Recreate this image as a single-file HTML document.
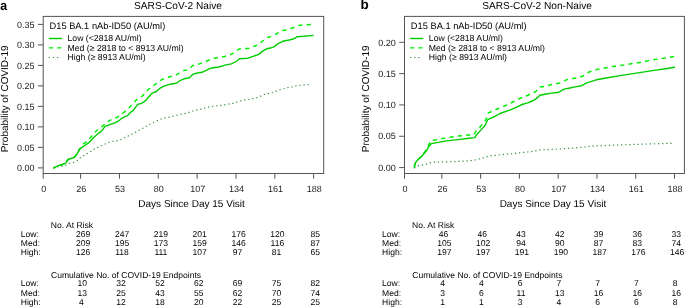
<!DOCTYPE html><html><head><meta charset="utf-8"><style>html,body{margin:0;padding:0;background:#fff;width:685px;height:307px;overflow:hidden}svg{display:block;will-change:transform}</style></head><body>
<svg width="685" height="307" viewBox="0 0 685 307" text-rendering="geometricPrecision" font-family='"Liberation Sans", sans-serif'>
<text transform="translate(0.3,9.6) scale(0.92,1)" font-size="13.4" font-weight="bold">a</text>
<text x="178.0" y="9.3" font-size="10.15" text-anchor="middle">SARS-CoV-2 Naive</text>
<g fill="none" stroke="#555" stroke-width="1">
<rect x="43.20" y="16.40" width="280.50" height="157.10"/>
<line x1="37.90" y1="167.90" x2="43.20" y2="167.90"/>
<line x1="37.90" y1="147.40" x2="43.20" y2="147.40"/>
<line x1="37.90" y1="126.90" x2="43.20" y2="126.90"/>
<line x1="37.90" y1="106.40" x2="43.20" y2="106.40"/>
<line x1="37.90" y1="85.90" x2="43.20" y2="85.90"/>
<line x1="37.90" y1="65.40" x2="43.20" y2="65.40"/>
<line x1="37.90" y1="44.90" x2="43.20" y2="44.90"/>
<line x1="37.90" y1="24.40" x2="43.20" y2="24.40"/>
<line x1="43.20" y1="173.50" x2="43.20" y2="178.80"/>
<line x1="80.60" y1="173.50" x2="80.60" y2="178.80"/>
<line x1="119.44" y1="173.50" x2="119.44" y2="178.80"/>
<line x1="158.28" y1="173.50" x2="158.28" y2="178.80"/>
<line x1="197.12" y1="173.50" x2="197.12" y2="178.80"/>
<line x1="235.96" y1="173.50" x2="235.96" y2="178.80"/>
<line x1="274.80" y1="173.50" x2="274.80" y2="178.80"/>
<line x1="313.64" y1="173.50" x2="313.64" y2="178.80"/>
</g>
<g font-size="9" fill="#222">
<text x="34.50" y="171.10" text-anchor="end">0.00</text>
<text x="34.50" y="150.60" text-anchor="end">0.05</text>
<text x="34.50" y="130.10" text-anchor="end">0.10</text>
<text x="34.50" y="109.60" text-anchor="end">0.15</text>
<text x="34.50" y="89.10" text-anchor="end">0.20</text>
<text x="34.50" y="68.60" text-anchor="end">0.25</text>
<text x="34.50" y="48.10" text-anchor="end">0.30</text>
<text x="34.50" y="27.60" text-anchor="end">0.35</text>
<text x="43.80" y="192" text-anchor="middle">0</text>
<text x="81.20" y="192" text-anchor="middle">26</text>
<text x="120.04" y="192" text-anchor="middle">53</text>
<text x="158.88" y="192" text-anchor="middle">80</text>
<text x="197.72" y="192" text-anchor="middle">107</text>
<text x="236.56" y="192" text-anchor="middle">134</text>
<text x="275.40" y="192" text-anchor="middle">161</text>
<text x="314.24" y="192" text-anchor="middle">188</text>
</g>
<text x="191.60" y="206.8" font-size="10" text-anchor="middle">Days Since Day 15 Visit</text>
<text transform="translate(7.60,98.8) rotate(-90)" font-size="10" text-anchor="middle">Probability of COVID-19</text>
<text x="49.50" y="29.0" font-size="9.3">D15 BA.1 nAb-ID50 (AU/ml)</text>
<g font-size="8.7">
<text x="67.50" y="40.9">Low (&lt;2818 AU/ml)</text>
<text x="67.50" y="50.5">Med (≥ 2818 to &lt; 8913 AU/ml)</text>
<text x="67.50" y="59.7">High (≥ 8913 AU/ml)</text>
</g>
<g fill="none" stroke-width="1.4">
<line x1="48.80" y1="38.5" x2="62.00" y2="38.5" stroke="#00CD00"/>
<line x1="48.80" y1="47.9" x2="62.00" y2="47.9" stroke="#00F000" stroke-dasharray="4.4 3.8"/>
<line x1="48.70" y1="57.5" x2="59.00" y2="57.5" stroke="#3a9548" stroke-dasharray="1.3 2.8" stroke-width="1.2"/>
</g>
<g fill="none" stroke-width="1.4" stroke-linejoin="round">
<polyline points="53.3,168.1 57.3,167.0 61.7,166.3 65.6,165.2 69.4,163.3 73.5,162.4 77.4,160.5 80.4,157.6 83.9,155.6 87.3,153.5 91.1,151.2 94.5,148.7 98.5,147.2 102.5,145.3 106.5,143.5 110.4,141.9 114.0,141.2 118.2,140.6 122.0,139.0 125.4,137.4 129.3,135.4 133.2,133.5 136.8,131.5 140.4,129.6 144.0,127.6 147.6,125.6 151.0,123.6 154.7,121.7 162.9,118.3 170.8,116.9 178.7,114.7 187.2,113.0 194.4,110.4 203.0,108.8 207.6,107.1 215.4,106.0 223.3,105.1 232.5,103.4 236.5,102.1 244.4,99.9 248.2,99.5 256.4,97.8 264.5,94.5 272.7,92.5 280.3,89.6 289.0,87.3 293.0,86.8 297.2,85.4 301.1,85.2 305.4,84.8 310.3,84.4" stroke="#3a9548" stroke-dasharray="1.3 2.8" stroke-width="1.2"/>
<polyline points="53.3,168.1 57.8,165.9 62.4,164.5 65.6,163.2 68.3,159.3 70.9,158.5 74.4,157.3 76.8,154.3 79.0,150.0 80.6,147.6 82.5,144.5 85.5,142.4 88.5,140.5 91.5,136.2 94.5,132.5 97.5,130.0 100.5,128.0 103.1,125.8 105.9,123.0 110.3,120.1 117.6,117.1 123.5,112.7 130.8,106.1 135.9,100.3 142.5,95.9 147.7,90.0 155.0,84.5 158.0,82.0 162.4,79.3 169.8,76.8 177.1,74.5 180.0,72.5 183.6,70.6 187.5,70.1 190.5,68.0 192.6,65.6 197.5,64.4 200.0,63.6 206.3,61.2 213.7,58.2 219.0,57.6 225.0,56.4 230.5,54.6 233.2,53.2 237.8,50.0 240.0,48.7 248.7,48.4 253.3,46.6 256.9,45.3 261.0,42.3 263.3,40.5 267.4,37.5 272.2,36.1 277.1,33.4 283.1,30.4 287.9,29.8 293.3,27.7 298.8,25.5 303.6,25.0 313.6,24.2" stroke="#00F000" stroke-dasharray="4.2 4.2" stroke-dashoffset="1.6" stroke-width="1.5"/>
<polyline points="53.3,168.1 57.8,165.9 62.4,164.5 65.6,163.2 68.3,159.3 70.9,158.5 74.4,157.3 76.8,154.3 79.1,150.1 81.4,147.8 84.8,145.5 88.2,143.2 91.7,139.8 93.9,137.2 97.4,134.2 100.8,131.6 103.0,129.2 105.1,126.4 110.3,124.3 114.9,122.8 118.1,121.2 121.0,119.0 123.9,117.1 127.1,115.9 131.2,111.8 133.6,110.2 136.9,105.3 138.5,104.1 141.8,103.3 145.9,100.4 148.4,97.3 152.1,93.2 156.5,91.5 159.4,88.7 163.8,86.2 169.7,84.3 176.3,83.2 179.9,80.7 184.3,78.8 189.5,77.7 193.1,74.1 197.5,73.0 201.9,72.3 206.3,70.4 210.7,68.2 215.0,67.5 219.0,67.0 225.0,65.1 231.4,63.9 236.9,61.0 239.6,58.7 247.8,58.2 252.4,56.6 258.8,54.4 262.4,51.4 267.0,48.7 271.5,47.7 274.0,46.9 277.8,43.8 282.7,41.3 289.1,40.0 294.0,38.7 297.6,36.7 303.6,36.3 313.6,35.4" stroke="#00CD00"/>
</g>
<g font-size="8.550" transform="scale(1.000,1)">
<text x="50.80" y="228">No. At Risk</text>
<text x="51.00" y="278">Cumulative No. of COVID-19 Endpoints</text>
<text x="20.80" y="237.0">Low:</text>
<text x="83.20" y="237.0" text-anchor="middle">269</text>
<text x="122.04" y="237.0" text-anchor="middle">247</text>
<text x="160.88" y="237.0" text-anchor="middle">219</text>
<text x="199.72" y="237.0" text-anchor="middle">201</text>
<text x="238.56" y="237.0" text-anchor="middle">176</text>
<text x="277.40" y="237.0" text-anchor="middle">120</text>
<text x="315.29" y="237.0" text-anchor="middle">85</text>
<text x="20.80" y="246.0">Med:</text>
<text x="83.20" y="246.0" text-anchor="middle">209</text>
<text x="122.04" y="246.0" text-anchor="middle">195</text>
<text x="160.88" y="246.0" text-anchor="middle">173</text>
<text x="199.72" y="246.0" text-anchor="middle">159</text>
<text x="238.56" y="246.0" text-anchor="middle">146</text>
<text x="277.40" y="246.0" text-anchor="middle">116</text>
<text x="315.29" y="246.0" text-anchor="middle">87</text>
<text x="20.80" y="255.0">High:</text>
<text x="83.20" y="255.0" text-anchor="middle">126</text>
<text x="122.04" y="255.0" text-anchor="middle">118</text>
<text x="160.88" y="255.0" text-anchor="middle">111</text>
<text x="199.72" y="255.0" text-anchor="middle">107</text>
<text x="237.61" y="255.0" text-anchor="middle">97</text>
<text x="276.45" y="255.0" text-anchor="middle">81</text>
<text x="315.29" y="255.0" text-anchor="middle">65</text>
<text x="20.80" y="286.0">Low:</text>
<text x="82.25" y="286.0" text-anchor="middle">10</text>
<text x="121.09" y="286.0" text-anchor="middle">32</text>
<text x="159.93" y="286.0" text-anchor="middle">52</text>
<text x="198.77" y="286.0" text-anchor="middle">62</text>
<text x="237.61" y="286.0" text-anchor="middle">69</text>
<text x="276.45" y="286.0" text-anchor="middle">75</text>
<text x="315.29" y="286.0" text-anchor="middle">82</text>
<text x="20.80" y="296.0">Med:</text>
<text x="82.25" y="296.0" text-anchor="middle">13</text>
<text x="121.09" y="296.0" text-anchor="middle">25</text>
<text x="159.93" y="296.0" text-anchor="middle">43</text>
<text x="198.77" y="296.0" text-anchor="middle">55</text>
<text x="237.61" y="296.0" text-anchor="middle">62</text>
<text x="276.45" y="296.0" text-anchor="middle">70</text>
<text x="315.29" y="296.0" text-anchor="middle">74</text>
<text x="20.80" y="305.0">High:</text>
<text x="81.30" y="305.0" text-anchor="middle">4</text>
<text x="121.09" y="305.0" text-anchor="middle">12</text>
<text x="159.93" y="305.0" text-anchor="middle">18</text>
<text x="198.77" y="305.0" text-anchor="middle">20</text>
<text x="237.61" y="305.0" text-anchor="middle">22</text>
<text x="276.45" y="305.0" text-anchor="middle">25</text>
<text x="315.29" y="305.0" text-anchor="middle">25</text>
</g>
<text x="360.6" y="9" font-size="13.5" font-weight="bold">b</text>
<text x="537.0" y="9.3" font-size="10.15" text-anchor="middle">SARS-CoV-2 Non-Naive</text>
<g fill="none" stroke="#555" stroke-width="1">
<rect x="404.50" y="16.40" width="279.90" height="157.10"/>
<line x1="399.20" y1="167.60" x2="404.50" y2="167.60"/>
<line x1="399.20" y1="136.27" x2="404.50" y2="136.27"/>
<line x1="399.20" y1="104.95" x2="404.50" y2="104.95"/>
<line x1="399.20" y1="73.62" x2="404.50" y2="73.62"/>
<line x1="399.20" y1="42.30" x2="404.50" y2="42.30"/>
<line x1="404.50" y1="173.50" x2="404.50" y2="178.80"/>
<line x1="441.84" y1="173.50" x2="441.84" y2="178.80"/>
<line x1="480.62" y1="173.50" x2="480.62" y2="178.80"/>
<line x1="519.40" y1="173.50" x2="519.40" y2="178.80"/>
<line x1="558.17" y1="173.50" x2="558.17" y2="178.80"/>
<line x1="596.95" y1="173.50" x2="596.95" y2="178.80"/>
<line x1="635.73" y1="173.50" x2="635.73" y2="178.80"/>
<line x1="674.51" y1="173.50" x2="674.51" y2="178.80"/>
</g>
<g font-size="9" fill="#222">
<text x="395.80" y="170.80" text-anchor="end">0.00</text>
<text x="395.80" y="139.47" text-anchor="end">0.05</text>
<text x="395.80" y="108.15" text-anchor="end">0.10</text>
<text x="395.80" y="76.83" text-anchor="end">0.15</text>
<text x="395.80" y="45.50" text-anchor="end">0.20</text>
<text x="405.10" y="192" text-anchor="middle">0</text>
<text x="442.44" y="192" text-anchor="middle">26</text>
<text x="481.22" y="192" text-anchor="middle">53</text>
<text x="520.00" y="192" text-anchor="middle">80</text>
<text x="558.77" y="192" text-anchor="middle">107</text>
<text x="597.55" y="192" text-anchor="middle">134</text>
<text x="636.33" y="192" text-anchor="middle">161</text>
<text x="675.11" y="192" text-anchor="middle">188</text>
</g>
<text x="552.90" y="206.8" font-size="10" text-anchor="middle">Days Since Day 15 Visit</text>
<text transform="translate(368.90,98.8) rotate(-90)" font-size="10" text-anchor="middle">Probability of COVID-19</text>
<text x="410.80" y="29.0" font-size="9.3">D15 BA.1 nAb-ID50 (AU/ml)</text>
<g font-size="8.7">
<text x="428.80" y="40.9">Low (&lt;2818 AU/ml)</text>
<text x="428.80" y="50.5">Med (≥ 2818 to &lt; 8913 AU/ml)</text>
<text x="428.80" y="59.7">High (≥ 8913 AU/ml)</text>
</g>
<g fill="none" stroke-width="1.4">
<line x1="410.10" y1="38.5" x2="423.30" y2="38.5" stroke="#00CD00"/>
<line x1="410.10" y1="47.9" x2="423.30" y2="47.9" stroke="#00F000" stroke-dasharray="4.4 3.8"/>
<line x1="410.00" y1="57.5" x2="420.30" y2="57.5" stroke="#3a9548" stroke-dasharray="1.3 2.8" stroke-width="1.2"/>
</g>
<g fill="none" stroke-width="1.4" stroke-linejoin="round">
<polyline points="414.3,168.0 417.4,166.0 422.0,165.2 426.5,164.1 430.5,162.6 434.5,162.1 438.5,162.1 449.0,161.8 468.0,160.9 475.5,159.9 481.2,158.4 488.8,156.1 502.1,154.6 519.2,152.9 532.5,151.4 540.0,149.9 555.0,149.3 574.0,148.0 593.0,146.1 612.0,145.2 630.9,144.6 649.9,143.9 672.5,143.3" stroke="#3a9548" stroke-dasharray="1.3 2.8" stroke-width="1.2"/>
<polyline points="414.3,168.3 414.6,165.2 415.7,162.4 418.0,159.5 421.4,156.5 424.3,152.5 427.1,149.0 428.8,144.5 431.0,140.5 436.2,139.8 446.4,137.8 457.8,136.1 469.2,135.0 474.3,134.4 476.0,131.0 480.6,126.4 485.2,120.7 486.9,117.3 488.3,113.0 495.4,109.8 504.6,105.9 512.4,102.2 520.2,98.3 528.0,95.2 535.8,91.5 539.8,87.0 547.6,86.0 550.0,84.8 559.1,83.2 567.0,79.6 576.1,78.0 582.6,76.3 589.1,72.0 598.2,69.1 606.1,67.8 615.2,66.3 628.0,64.3 641.1,62.2 654.1,59.6 667.2,57.8 675.0,56.4" stroke="#00F000" stroke-dasharray="4.2 4.2" stroke-dashoffset="-1.5" stroke-width="1.5"/>
<polyline points="414.3,168.3 414.6,165.2 415.7,162.4 418.0,159.5 421.4,156.7 424.3,153.2 427.1,149.8 428.8,146.4 431.5,143.6 446.4,140.9 457.8,139.6 469.2,138.3 474.9,137.6 476.0,135.5 480.6,130.4 485.2,125.3 487.7,119.7 495.0,116.4 499.9,113.5 509.7,110.2 516.2,107.3 521.9,104.5 527.6,102.8 530.0,102.0 534.9,99.6 538.1,97.1 539.8,95.2 546.3,94.0 550.0,93.4 558.9,92.2 564.2,89.1 570.0,88.0 573.5,87.1 581.7,85.7 586.6,82.9 596.4,79.8 609.1,77.5 620.0,75.6 628.0,74.4 641.1,72.4 654.1,70.4 667.2,68.5 675.0,67.3" stroke="#00CD00"/>
</g>
<g font-size="8.550" transform="scale(1.000,1)">
<text x="412.10" y="228">No. At Risk</text>
<text x="412.30" y="278">Cumulative No. of COVID-19 Endpoints</text>
<text x="382.10" y="237.0">Low:</text>
<text x="443.49" y="237.0" text-anchor="middle">46</text>
<text x="482.27" y="237.0" text-anchor="middle">46</text>
<text x="521.05" y="237.0" text-anchor="middle">43</text>
<text x="559.82" y="237.0" text-anchor="middle">42</text>
<text x="598.60" y="237.0" text-anchor="middle">39</text>
<text x="637.38" y="237.0" text-anchor="middle">36</text>
<text x="676.16" y="237.0" text-anchor="middle">33</text>
<text x="382.10" y="246.0">Med:</text>
<text x="444.44" y="246.0" text-anchor="middle">105</text>
<text x="483.22" y="246.0" text-anchor="middle">102</text>
<text x="521.05" y="246.0" text-anchor="middle">94</text>
<text x="559.82" y="246.0" text-anchor="middle">90</text>
<text x="598.60" y="246.0" text-anchor="middle">87</text>
<text x="637.38" y="246.0" text-anchor="middle">83</text>
<text x="676.16" y="246.0" text-anchor="middle">74</text>
<text x="382.10" y="255.0">High:</text>
<text x="444.44" y="255.0" text-anchor="middle">197</text>
<text x="483.22" y="255.0" text-anchor="middle">197</text>
<text x="522.00" y="255.0" text-anchor="middle">191</text>
<text x="560.77" y="255.0" text-anchor="middle">190</text>
<text x="599.55" y="255.0" text-anchor="middle">187</text>
<text x="638.33" y="255.0" text-anchor="middle">176</text>
<text x="677.11" y="255.0" text-anchor="middle">146</text>
<text x="382.10" y="286.0">Low:</text>
<text x="442.54" y="286.0" text-anchor="middle">4</text>
<text x="481.32" y="286.0" text-anchor="middle">4</text>
<text x="520.10" y="286.0" text-anchor="middle">6</text>
<text x="558.87" y="286.0" text-anchor="middle">7</text>
<text x="597.65" y="286.0" text-anchor="middle">7</text>
<text x="636.43" y="286.0" text-anchor="middle">7</text>
<text x="675.21" y="286.0" text-anchor="middle">8</text>
<text x="382.10" y="296.0">Med:</text>
<text x="442.54" y="296.0" text-anchor="middle">3</text>
<text x="481.32" y="296.0" text-anchor="middle">6</text>
<text x="521.05" y="296.0" text-anchor="middle">11</text>
<text x="559.82" y="296.0" text-anchor="middle">13</text>
<text x="598.60" y="296.0" text-anchor="middle">16</text>
<text x="637.38" y="296.0" text-anchor="middle">16</text>
<text x="676.16" y="296.0" text-anchor="middle">16</text>
<text x="382.10" y="305.0">High:</text>
<text x="442.54" y="305.0" text-anchor="middle">1</text>
<text x="481.32" y="305.0" text-anchor="middle">1</text>
<text x="520.10" y="305.0" text-anchor="middle">3</text>
<text x="558.87" y="305.0" text-anchor="middle">4</text>
<text x="597.65" y="305.0" text-anchor="middle">6</text>
<text x="636.43" y="305.0" text-anchor="middle">6</text>
<text x="675.21" y="305.0" text-anchor="middle">8</text>
</g>
</svg></body></html>
